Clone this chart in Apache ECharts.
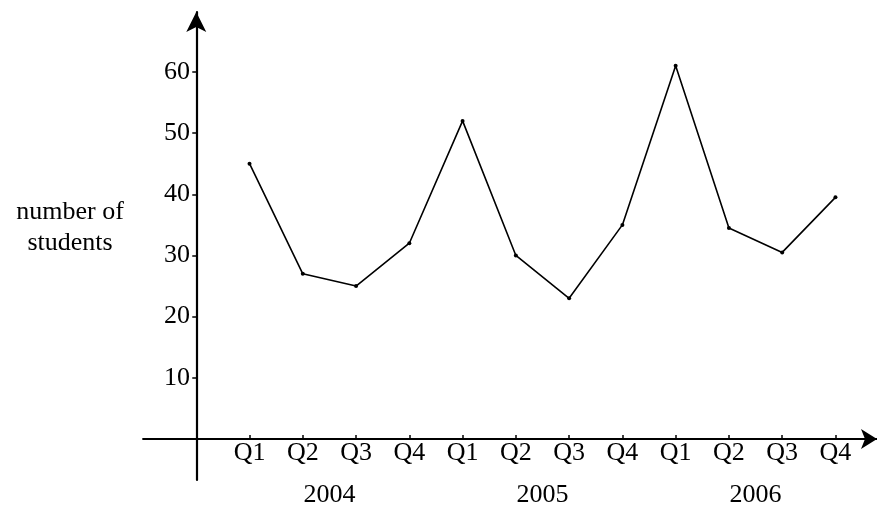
<!DOCTYPE html>
<html>
<head>
<meta charset="utf-8">
<script src="https://cdn.jsdelivr.net/npm/echarts@6/dist/echarts.min.js"></script>
<style>
html,body{margin:0;padding:0;background:#fff;}
#c{width:877px;height:508px;}
</style>
</head>
<body>
<div id="c"></div>
<script>
var quarters = ['Q1','Q2','Q3','Q4','Q1','Q2','Q3','Q4','Q1','Q2','Q3','Q4'];
var years = ['2004','2005','2006'];
var yearPositions = [2.5, 6.5, 10.5];
var students = [45, 27, 25, 32, 52, 30, 23, 35, 61, 34.5, 30.5, 39.5];
var yTicks = [10, 20, 30, 40, 50, 60];
var yAxisName = 'number of\nstudents';

var xPositions = quarters.map(function(q, i){ return i + 1; });
var font = 'Liberation Serif';

var chart = echarts.init(document.getElementById('c'));
chart.setOption({
  animation: false,
  backgroundColor: '#fff',
  grid: { left: 143, right: 0, top: 12, bottom: 28, containLabel: false },
  xAxis: [{
    type: 'value', min: -1, max: 12.78,
    splitLine: { show: false },
    axisLine: { show: true, onZero: true, symbol: ['none', 'arrow'], symbolSize: [15, 16], symbolOffset: [0, 0],
      lineStyle: { color: '#000', width: 1.8 } },
    axisTick: { show: true, customValues: xPositions, length: 4, inside: true, lineStyle: { color: '#000', width: 1.5 } },
    axisLabel: { customValues: xPositions, margin: -40, color: '#000', fontFamily: font, fontSize: 26,
      formatter: function(v){ return quarters[Math.round(v) - 1] || ''; } }
  }, {
    type: 'value', min: -1, max: 12.78, position: 'bottom',
    splitLine: { show: false },
    axisLine: { show: false, onZero: false },
    axisTick: { show: false },
    axisLabel: { customValues: yearPositions, margin: 2, color: '#000', fontFamily: font, fontSize: 26,
      formatter: function(v){ var k = yearPositions.indexOf(v); return k >= 0 ? years[k] : ''; } }
  }],
  yAxis: {
    type: 'value', min: -6.7, max: 69.8,
    splitLine: { show: false },
    axisLine: { show: true, onZero: true, symbol: ['none', 'arrow'], symbolSize: [15, 20],
      lineStyle: { color: '#000', width: 2.2 } },
    axisTick: { show: true, customValues: yTicks, length: 4, lineStyle: { color: '#000', width: 1.5 } },
    axisLabel: { customValues: yTicks, margin: -47, color: '#000', fontFamily: font, fontSize: 26 }
  },
  graphic: [{
    type: 'text', left: 10, top: 197,
    style: { text: yAxisName, fill: '#000', font: '26px "Liberation Serif"', textAlign: 'center', lineHeight: 31, width: 120 }
  }],
  series: [{
    type: 'line', xAxisIndex: 0,
    data: students.map(function(v, i){ return [xPositions[i], v]; }),
    symbol: 'circle', symbolSize: 4, showSymbol: true,
    lineStyle: { color: '#000', width: 1.6 },
    itemStyle: { color: '#000' }
  }]
});
</script>
</body>
</html>
